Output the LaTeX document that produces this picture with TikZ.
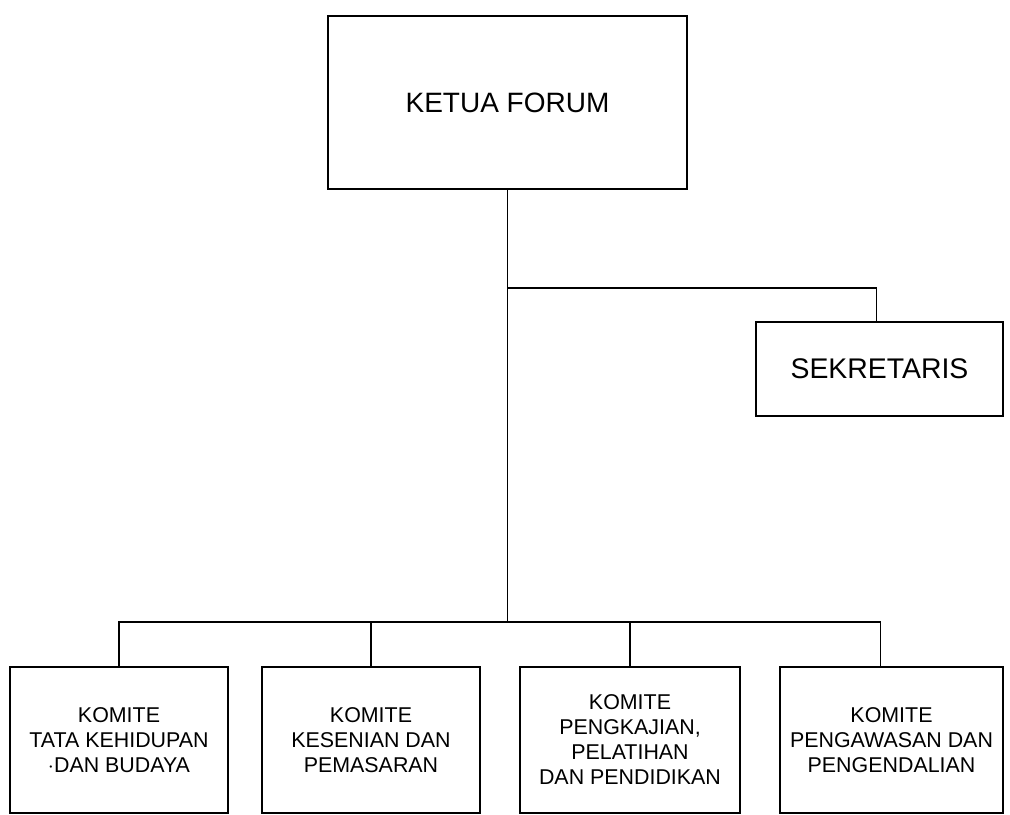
\documentclass[tikz,border=0pt]{standalone}
\usepackage{fontspec}
\setmainfont{Liberation Sans}
\usetikzlibrary{positioning,calc}
\tikzset{box/.style={draw,line width=0.8pt,align=center,inner sep=2pt},
  komite/.style={box,minimum height=73pt,font=\fontsize{10.7}{12.5}\selectfont}}

\begin{document}
\begin{tikzpicture}[x=0.5pt,y=-0.5pt,line width=0.8pt]
  \useasboundingbox (0,0) rectangle (1010,814);
  \clip (0,0) rectangle (1010,814);

  \node[box,minimum width=179.5pt,minimum height=86.5pt,font=\fontsize{14}{16}\selectfont] (ketua) at (507.5,102.5) {KETUA FORUM};
  \node[box,minimum width=123.5pt,minimum height=47pt,font=\fontsize{14.2}{16}\selectfont] (sekretaris) at (879.5,369) {SEKRETARIS};

  \node[komite,minimum width=109pt] (tata) at (119,740) {KOMITE\\TATA KEHIDUPAN\\$\cdot$DAN BUDAYA};
  \node[komite,minimum width=109pt] (kesenian) at (371,740) {KOMITE\\KESENIAN DAN\\PEMASARAN};
  \node[komite,minimum width=110pt] (kajian) at (630,740) {KOMITE\\PENGKAJIAN,\\PELATIHAN\\DAN PENDIDIKAN};
  \node[komite,minimum width=111.5pt] (awas) at (891.5,740) {KOMITE\\PENGAWASAN DAN\\PENGENDALIAN};

  \coordinate (cab) at (ketua.south |- 0,288);
  \coordinate (bus) at (ketua.south |- 0,622);
  \draw (ketua.south) -- (bus);
  \draw (cab) -| ([xshift=-1.5pt]sekretaris.north);

  \draw (bus) -| (tata.north);
  \draw (bus) -| (kesenian.north);
  \draw (bus) -| (kajian.north);
  \draw (bus) -| ([xshift=-5.5pt]awas.north);
\end{tikzpicture}
\end{document}
